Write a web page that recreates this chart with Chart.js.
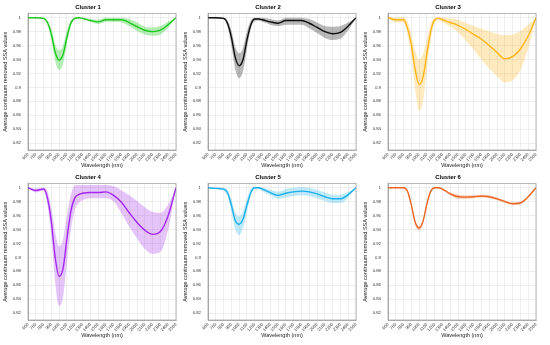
<!DOCTYPE html>
<html>
<head>
<meta charset="utf-8">
<script src="https://cdn.jsdelivr.net/npm/chart.js@4.4.1/dist/chart.umd.min.js"></script>
<style>
  body { margin: 0; background: #fff; width: 550px; height: 345px; position: relative; overflow: hidden; }
  canvas { position: absolute; }
</style>
</head>
<body>
<canvas id="c1" width="183" height="172" style="left:0px;top:0px"></canvas>
<canvas id="c2" width="183" height="172" style="left:180px;top:0px"></canvas>
<canvas id="c3" width="183" height="172" style="left:360px;top:0px"></canvas>
<canvas id="c4" width="183" height="172" style="left:0px;top:170px"></canvas>
<canvas id="c5" width="183" height="172" style="left:180px;top:170px"></canvas>
<canvas id="c6" width="183" height="172" style="left:360px;top:170px"></canvas>
<script>
// wavelengths (nm)
const wl = [600, 700, 800, 850, 900, 950, 1000, 1050, 1100, 1150, 1200, 1250, 1300, 1400, 1500, 1600, 1700, 1800, 1900, 2000, 2100, 2200, 2300, 2400, 2500];
const xTicks = [600, 700, 800, 900, 1000, 1100, 1200, 1300, 1400, 1500, 1600, 1700, 1800, 1900, 2000, 2100, 2200, 2300, 2400, 2500];
const yTicks = [0.82, 0.84, 0.86, 0.88, 0.9, 0.92, 0.94, 0.96, 0.98, 1];

const c1Mean  = [1.0, 1.0, 0.999, 0.993, 0.976, 0.950, 0.939, 0.947, 0.972, 0.992, 0.999, 1.0, 0.999, 0.996, 0.994, 0.997, 0.997, 0.997, 0.993, 0.987, 0.982, 0.980, 0.982, 0.990, 1.0];
const c1Upper = [1.0, 1.0, 1.0, 0.996, 0.984, 0.962, 0.953, 0.960, 0.982, 0.996, 1.0, 1.0, 1.0, 0.998, 0.997, 1.0, 1.0, 1.0, 0.998, 0.993, 0.987, 0.986, 0.988, 0.994, 1.0];
const c1Lower = [1.0, 1.0, 0.998, 0.990, 0.968, 0.937, 0.925, 0.934, 0.962, 0.988, 0.998, 0.999, 0.998, 0.994, 0.991, 0.994, 0.994, 0.993, 0.988, 0.981, 0.976, 0.974, 0.976, 0.986, 1.0];

const c2Mean  = [1.0, 1.0, 0.999, 0.992, 0.972, 0.943, 0.931, 0.940, 0.968, 0.990, 0.998, 0.998, 0.997, 0.994, 0.992, 0.996, 0.996, 0.996, 0.992, 0.986, 0.980, 0.977, 0.979, 0.988, 1.0];
const c2Upper = [1.0, 1.0, 1.0, 0.996, 0.982, 0.958, 0.949, 0.957, 0.980, 0.996, 1.0, 1.0, 1.0, 0.998, 0.996, 1.0, 1.0, 1.0, 0.998, 0.993, 0.988, 0.987, 0.988, 0.993, 1.0];
const c2Lower = [1.0, 0.999, 0.998, 0.987, 0.960, 0.926, 0.913, 0.923, 0.955, 0.984, 0.995, 0.996, 0.994, 0.990, 0.988, 0.990, 0.990, 0.990, 0.985, 0.978, 0.971, 0.968, 0.970, 0.982, 1.0];

const c3Mean  = [1.0, 0.997, 0.997, 0.985, 0.961, 0.925, 0.904, 0.915, 0.949, 0.981, 0.997, 0.999, 0.997, 0.993, 0.989, 0.983, 0.976, 0.969, 0.960, 0.950, 0.941, 0.944, 0.955, 0.974, 1.0];
const c3Upper = [1.0, 1.0, 1.001, 0.995, 0.976, 0.952, 0.940, 0.948, 0.970, 0.992, 1.0, 1.001, 1.0, 0.999, 0.997, 0.992, 0.988, 0.984, 0.980, 0.977, 0.975, 0.976, 0.981, 0.990, 1.0];
const c3Lower = [1.0, 0.993, 0.993, 0.975, 0.945, 0.895, 0.866, 0.880, 0.925, 0.968, 0.993, 0.996, 0.993, 0.987, 0.979, 0.967, 0.954, 0.940, 0.927, 0.916, 0.907, 0.910, 0.925, 0.955, 1.0];

const c4Mean  = [1.0, 0.996, 0.998, 0.985, 0.951, 0.899, 0.8725, 0.884, 0.927, 0.966, 0.985, 0.990, 0.992, 0.993, 0.993, 0.994, 0.989, 0.979, 0.964, 0.950, 0.939, 0.933, 0.937, 0.960, 1.0];
const c4Upper = [1.0, 0.999, 1.0, 0.995, 0.970, 0.935, 0.916, 0.926, 0.960, 0.990, 1.003, 1.004, 1.004, 1.004, 1.004, 1.004, 1.002, 0.996, 0.989, 0.981, 0.972, 0.965, 0.964, 0.976, 1.0];
const c4Lower = [1.0, 0.993, 0.996, 0.975, 0.930, 0.862, 0.830, 0.843, 0.893, 0.940, 0.968, 0.978, 0.982, 0.985, 0.985, 0.985, 0.980, 0.963, 0.944, 0.927, 0.912, 0.905, 0.908, 0.940, 1.0];

const c5Mean  = [1.0, 0.999, 0.998, 0.993, 0.975, 0.953, 0.9475, 0.955, 0.975, 0.993, 1.0, 1.0, 0.998, 0.993, 0.989, 0.992, 0.994, 0.995, 0.994, 0.991, 0.987, 0.984, 0.984, 0.990, 1.0];
const c5Upper = [1.0, 1.0, 1.0, 0.997, 0.983, 0.964, 0.959, 0.966, 0.984, 0.998, 1.001, 1.001, 1.0, 0.997, 0.994, 0.998, 1.0, 1.001, 1.0, 0.997, 0.993, 0.990, 0.990, 0.994, 1.0];
const c5Lower = [1.0, 0.998, 0.996, 0.988, 0.966, 0.940, 0.932, 0.942, 0.965, 0.988, 0.998, 0.998, 0.995, 0.989, 0.984, 0.986, 0.988, 0.989, 0.988, 0.985, 0.981, 0.978, 0.978, 0.986, 1.0];

const c6Mean  = [1.0, 1.0, 1.0, 0.995, 0.975, 0.950, 0.942, 0.952, 0.977, 0.995, 1.0, 1.0, 0.998, 0.991, 0.987, 0.9865, 0.987, 0.988, 0.987, 0.984, 0.980, 0.977, 0.978, 0.987, 1.0];
const c6Upper = [1.0, 1.0, 1.0, 0.996, 0.977, 0.953, 0.945, 0.955, 0.979, 0.996, 1.0, 1.0, 0.999, 0.993, 0.990, 0.989, 0.989, 0.990, 0.989, 0.986, 0.982, 0.979, 0.980, 0.988, 1.0];
const c6Lower = [1.0, 1.0, 0.999, 0.994, 0.973, 0.947, 0.938, 0.949, 0.975, 0.994, 0.999, 0.999, 0.997, 0.989, 0.984, 0.984, 0.985, 0.986, 0.985, 0.982, 0.978, 0.975, 0.976, 0.986, 1.0];

const FONT = '"Liberation Sans", Arial, sans-serif';

// MATLAB-style box around the axes
const boxPlugin = {
  id: 'box',
  afterDraw(chart) {
    const a = chart.chartArea, ctx = chart.ctx;
    ctx.save();
    ctx.strokeStyle = '#8a8a8a';
    ctx.lineWidth = 0.6;
    ctx.strokeRect(a.left, a.top, a.right - a.left, a.bottom - a.top);
    ctx.restore();
  }
};

function pts(arr) {
  return arr.map((v, i) => ({ x: wl[i], y: v }));
}

function makeChart(id, title, mean, upper, lower, color, band) {
  const common = { pointRadius: 0, cubicInterpolationMode: 'monotone' };
  new Chart(document.getElementById(id), {
    type: 'line',
    data: {
      datasets: [
        { ...common, data: pts(upper), borderWidth: 0, borderColor: 'rgba(0,0,0,0)', backgroundColor: band, fill: '+1' },
        { ...common, data: pts(lower), borderWidth: 0, borderColor: 'rgba(0,0,0,0)', fill: false },
        { ...common, data: pts(mean), borderColor: color, borderWidth: 1.4, fill: false }
      ]
    },
    options: {
      responsive: false,
      animation: false,
      devicePixelRatio: 1,
      layout: { padding: { left: 0, right: 7, top: 0, bottom: 0 } },
      plugins: {
        legend: { display: false },
        tooltip: { enabled: false },
        title: {
          display: true,
          text: title,
          color: '#000',
          font: { family: FONT, size: 6, weight: 'bold' },
          padding: { top: 3.5, bottom: 2.8 }
        }
      },
      scales: {
        x: {
          type: 'linear',
          min: 600,
          max: 2500,
          afterBuildTicks: s => { s.ticks = xTicks.map(v => ({ value: v })); },
          afterFit: s => { s.height = 22; },
          grid: { color: '#e2e2e2', lineWidth: 0.6, drawTicks: false },
          border: { color: '#8a8a8a', width: 0.6 },
          ticks: {
            autoSkip: false,
            minRotation: 45,
            maxRotation: 45,
            padding: 2,
            color: '#333',
            font: { family: FONT, size: 4.3 },
            callback: v => String(v)
          },
          title: {
            display: true,
            text: 'Wavelength (nm)',
            color: '#222',
            font: { family: FONT, size: 5.5 },
            padding: { top: 0, bottom: 3 }
          }
        },
        y: {
          min: 0.81,
          max: 1.006,
          afterBuildTicks: s => { s.ticks = yTicks.map(v => ({ value: v })); },
          afterFit: s => { s.width = 28; },
          grid: { color: '#e2e2e2', lineWidth: 0.6, drawTicks: false },
          border: { color: '#8a8a8a', width: 0.6 },
          ticks: {
            padding: 7,
            color: '#333',
            font: { family: FONT, size: 4.3 },
            callback: v => String(+v.toFixed(2))
          },
          title: {
            display: true,
            text: 'Average continuum removed SSA values',
            color: '#222',
            font: { family: FONT, size: 5.5 },
            padding: { top: 2, bottom: 0 }
          }
        }
      }
    },
    plugins: [boxPlugin]
  });
}

makeChart('c1', 'Cluster 1', c1Mean, c1Upper, c1Lower, '#1cc41c', 'rgba(40,205,40,0.35)');
makeChart('c2', 'Cluster 2', c2Mean, c2Upper, c2Lower, '#111111', 'rgba(0,0,0,0.28)');
makeChart('c3', 'Cluster 3', c3Mean, c3Upper, c3Lower, '#ffb000', 'rgba(255,190,60,0.32)');
makeChart('c4', 'Cluster 4', c4Mean, c4Upper, c4Lower, '#a020f0', 'rgba(170,60,240,0.3)');
makeChart('c5', 'Cluster 5', c5Mean, c5Upper, c5Lower, '#1aaee8', 'rgba(30,180,240,0.28)');
makeChart('c6', 'Cluster 6', c6Mean, c6Upper, c6Lower, '#e8641e', 'rgba(240,110,50,0.3)');
</script>
</body>
</html>
